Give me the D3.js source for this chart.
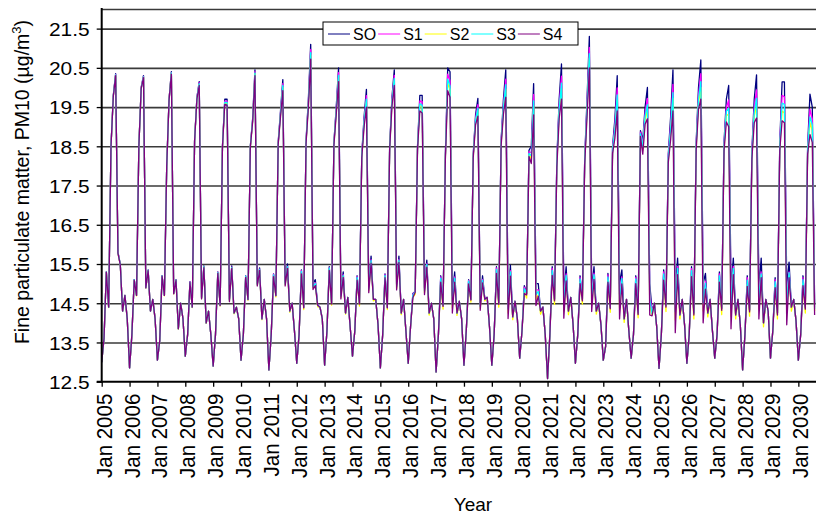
<!DOCTYPE html>
<html><head><meta charset="utf-8">
<script src="https://cdn.jsdelivr.net/npm/d3@7"></script>
<style>html,body{margin:0;padding:0;background:#fff;}svg{display:block;font-family:"Liberation Sans",Arial,Helvetica,sans-serif;}</style>
</head><body><svg id="c" width="816" height="516"></svg>
<script>
const yearLabels = ["Jan 2005","Jan 2006","Jan 2007","Jan 2008","Jan 2009","Jan 2010","Jan 2011","Jan 2012","Jan 2013","Jan 2014","Jan 2015","Jan 2016","Jan 2017","Jan 2018","Jan 2019","Jan 2020","Jan 2021","Jan 2022","Jan 2023","Jan 2024","Jan 2025","Jan 2026","Jan 2027","Jan 2028","Jan 2029","Jan 2030"];
const yTicks = [12.5,13.5,14.5,15.5,16.5,17.5,18.5,19.5,20.5,21.5];
const seriesNames = ["SO","S1","S2","S3","S4"];
const seriesColors = ["#000080","#ff00ff","#ffff00","#00ffff","#800080"];

// monthly values, Jan 2005 .. Aug 2030 (one row per year)
const SO = [
13.0,13.6,15.3,14.4,18.5,19.8,20.35,15.8,15.5,14.3,14.7,14.1,
12.85,13.7,15.1,14.7,18.5,20.0,20.3,14.9,15.35,14.3,14.6,14.1,
13.05,13.55,15.2,14.7,18.0,19.7,20.4,14.75,15.1,13.85,14.5,14.1,
13.15,13.7,15.05,14.4,18.65,19.75,20.15,14.65,15.45,14.0,14.3,13.7,
12.9,13.7,15.3,14.45,18.5,19.7,19.7,14.6,15.45,14.25,14.4,14.1,
13.05,13.7,15.2,14.6,18.5,19.2,20.45,15.0,15.4,14.1,14.6,14.1,
12.8,13.7,15.25,14.7,18.6,19.4,20.2,15.05,15.5,14.3,14.5,13.8,
12.97,13.7,15.35,14.4,18.65,19.7,21.1,15.0,15.1,14.45,14.4,14.1,
12.92,13.8,15.43,14.5,18.6,19.5,20.5,14.75,15.3,14.25,14.65,13.9,
13.15,13.8,15.2,14.5,18.3,19.25,19.95,14.95,15.7,14.6,14.6,13.95,
12.85,13.7,15.25,14.4,18.5,19.75,20.45,15.0,15.7,14.25,14.6,13.8,
12.97,13.9,14.75,14.8,18.5,19.8,19.8,14.9,15.6,14.25,14.5,14.1,
12.75,13.7,15.2,14.45,18.3,20.5,20.4,14.7,15.3,14.25,14.55,14.1,
12.92,13.8,15.1,14.6,18.3,19.3,19.72,14.5,15.2,14.6,14.65,13.9,
12.92,13.7,15.43,14.5,18.65,19.7,20.45,14.6,15.47,14.15,14.55,14.1,
13.1,13.8,14.95,14.75,18.4,18.5,20.1,15.0,15.0,14.3,14.4,13.7,
12.58,13.7,15.43,14.6,18.15,19.7,20.6,14.75,15.43,14.3,14.65,13.95,
12.97,13.7,15.2,14.6,18.2,19.7,21.3,14.85,15.43,14.3,14.5,13.95,
13.05,13.4,15.26,14.4,18.5,19.2,20.3,15.0,15.35,14.1,14.6,13.8,
13.1,13.7,15.2,14.25,18.9,18.65,19.5,20.0,15.0,14.3,14.5,13.9,
12.84,13.7,15.35,14.45,18.3,19.25,20.45,14.8,15.65,14.2,14.6,13.95,
12.97,13.7,15.43,14.25,18.6,20.0,20.7,15.0,15.26,14.25,14.6,13.8,
13.1,13.7,15.3,14.37,18.6,19.7,20.05,14.9,15.65,14.2,14.6,13.95,
12.8,13.7,15.2,14.33,18.4,19.7,20.32,14.9,15.65,14.0,14.6,14.3,
13.1,13.8,15.15,14.25,18.6,20.14,20.14,14.9,15.55,14.4,14.6,14.05,
13.05,13.7,15.2,14.4,18.5,19.83,19.5,14.5
];
const S1 = [
13.0,13.6,15.3,14.4,18.5,19.79,20.33,15.79,15.49,14.3,14.7,14.1,
12.85,13.7,15.1,14.7,18.5,19.99,20.28,14.9,15.34,14.3,14.6,14.1,
13.05,13.55,15.2,14.7,18.0,19.69,20.38,14.75,15.09,13.85,14.5,14.1,
13.15,13.7,15.05,14.4,18.65,19.73,20.12,14.64,15.43,14.0,14.3,13.7,
12.9,13.7,15.29,14.45,18.49,19.65,19.65,14.59,15.42,14.25,14.4,14.1,
13.05,13.7,15.19,14.6,18.49,19.17,20.4,14.99,15.37,14.1,14.6,14.1,
12.8,13.7,15.24,14.7,18.59,19.34,20.1,15.02,15.44,14.3,14.5,13.8,
12.97,13.7,15.33,14.4,18.63,19.62,20.97,14.96,15.02,14.45,14.4,14.1,
12.92,13.8,15.41,14.5,18.58,19.43,20.38,14.72,15.23,14.25,14.65,13.9,
13.15,13.8,15.18,14.5,18.28,19.16,19.79,14.9,15.61,14.6,14.6,13.95,
12.85,13.7,15.23,14.4,18.48,19.67,20.31,14.96,15.62,14.25,14.6,13.8,
12.97,13.9,14.73,14.8,18.48,19.66,19.64,14.86,15.51,14.25,14.5,14.1,
12.75,13.7,15.17,14.45,18.27,20.34,20.17,14.57,15.17,14.25,14.55,14.1,
12.92,13.8,15.08,14.6,18.28,19.21,19.56,14.45,15.11,14.6,14.65,13.9,
12.92,13.7,15.4,14.5,18.62,19.56,20.21,14.46,15.33,14.15,14.55,14.1,
13.1,13.8,14.91,14.75,18.36,18.34,19.82,14.84,14.84,14.3,14.4,13.7,
12.58,13.7,15.39,14.6,18.11,19.52,20.29,14.57,15.25,14.3,14.65,13.95,
12.97,13.7,15.16,14.6,18.16,19.54,21.02,14.69,15.27,14.3,14.5,13.95,
13.05,13.4,15.22,14.4,18.46,19.02,19.99,14.73,15.17,14.1,14.6,13.8,
13.1,13.7,15.16,14.25,18.86,18.55,19.34,19.72,14.76,14.26,14.5,13.9,
12.84,13.7,15.3,14.45,18.25,19.04,20.08,14.49,15.44,14.2,14.6,13.95,
12.97,13.7,15.38,14.25,18.55,19.8,20.35,14.7,15.06,14.25,14.6,13.8,
13.1,13.7,15.25,14.37,18.55,19.49,19.68,14.59,15.44,14.2,14.6,13.95,
12.8,13.7,15.15,14.33,18.35,19.48,19.94,14.65,15.3,14.0,14.6,14.3,
13.1,13.8,15.1,14.25,18.55,19.8,19.76,14.6,15.3,14.4,14.6,14.05,
13.05,13.7,15.15,14.4,18.45,19.45,19.2,14.4
];
const S2 = [
13.0,13.6,15.29,14.39,18.49,19.78,20.31,15.78,15.48,14.3,14.7,14.1,
12.85,13.7,15.09,14.69,18.49,19.98,20.26,14.89,15.33,14.3,14.6,14.1,
13.05,13.55,15.19,14.69,17.99,19.68,20.36,14.74,15.08,13.84,14.5,14.1,
13.15,13.7,15.03,14.39,18.64,19.71,20.08,14.62,15.42,13.99,14.3,13.7,
12.9,13.7,15.27,14.43,18.48,19.6,19.6,14.56,15.4,14.23,14.4,14.1,
13.05,13.7,15.17,14.58,18.48,19.14,20.35,14.96,15.35,14.08,14.6,14.1,
12.8,13.7,15.19,14.66,18.56,19.29,20.0,14.97,15.4,14.27,14.5,13.8,
12.97,13.7,15.27,14.34,18.59,19.55,20.83,14.89,14.97,14.41,14.4,14.1,
12.92,13.8,15.36,14.45,18.55,19.36,20.26,14.65,15.18,14.22,14.65,13.9,
13.15,13.8,15.11,14.43,18.23,19.07,19.64,14.82,15.54,14.56,14.6,13.95,
12.85,13.7,15.17,14.34,18.44,19.59,20.17,14.88,15.56,14.21,14.6,13.8,
12.97,13.9,14.66,14.73,18.43,19.53,19.49,14.77,15.44,14.2,14.5,14.1,
12.75,13.7,15.07,14.35,18.2,20.11,19.95,14.38,15.07,14.19,14.55,14.1,
12.92,13.8,15.01,14.53,18.23,19.12,19.41,14.37,15.04,14.56,14.65,13.9,
12.92,13.7,15.29,14.4,18.55,19.42,19.96,14.25,15.23,14.08,14.55,14.1,
13.1,13.8,14.79,14.63,18.28,18.18,19.54,14.6,14.72,14.22,14.4,13.7,
12.58,13.7,15.25,14.47,18.02,19.34,19.97,14.3,15.12,14.21,14.65,13.95,
12.97,13.7,15.04,14.48,18.08,19.38,20.74,14.45,15.15,14.22,14.5,13.95,
13.05,13.4,15.08,14.27,18.37,18.84,19.67,14.37,15.04,14.01,14.6,13.8,
13.1,13.7,15.04,14.13,18.78,18.4,19.18,19.44,14.44,14.2,14.5,13.9,
12.84,13.7,15.14,14.29,18.14,18.83,19.72,14.07,15.28,14.1,14.6,13.95,
12.97,13.7,15.23,14.1,18.45,19.6,20.0,14.3,14.91,14.15,14.6,13.8,
13.1,13.7,15.09,14.21,18.44,19.28,19.32,14.17,15.28,14.1,14.6,13.95,
12.8,13.7,14.98,14.17,18.24,19.26,19.55,14.35,15.2,13.9,14.6,14.3,
13.1,13.8,14.95,14.1,18.45,19.4,19.35,14.3,15.2,14.3,14.6,14.05,
13.05,13.7,15.0,14.25,18.35,19.1,18.9,14.3
];
const S3 = [
13.0,13.6,15.3,14.4,18.5,19.79,20.32,15.79,15.49,14.3,14.7,14.1,
12.85,13.7,15.1,14.7,18.5,19.98,20.27,14.9,15.34,14.3,14.6,14.1,
13.05,13.55,15.2,14.7,18.0,19.68,20.37,14.75,15.09,13.85,14.5,14.1,
13.15,13.7,15.04,14.4,18.64,19.72,20.1,14.63,15.43,14.0,14.3,13.7,
12.9,13.7,15.28,14.45,18.49,19.62,19.62,14.57,15.41,14.25,14.4,14.1,
13.05,13.7,15.19,14.6,18.49,19.16,20.37,14.97,15.36,14.1,14.6,14.1,
12.8,13.7,15.22,14.7,18.57,19.32,20.05,14.99,15.43,14.3,14.5,13.8,
12.97,13.7,15.31,14.4,18.61,19.59,20.89,14.92,15.0,14.45,14.4,14.1,
12.92,13.8,15.4,14.5,18.57,19.4,20.31,14.68,15.21,14.25,14.65,13.9,
13.15,13.8,15.16,14.5,18.26,19.12,19.7,14.86,15.59,14.6,14.6,13.95,
12.85,13.7,15.21,14.4,18.46,19.63,20.23,14.92,15.6,14.25,14.6,13.8,
12.97,13.9,14.7,14.8,18.46,19.58,19.55,14.81,15.49,14.25,14.5,14.1,
12.75,13.7,15.14,14.45,18.24,20.21,20.04,14.47,15.14,14.25,14.55,14.1,
12.92,13.8,15.06,14.6,18.26,19.17,19.47,14.41,15.09,14.6,14.65,13.9,
12.92,13.7,15.36,14.5,18.58,19.49,20.07,14.36,15.3,14.15,14.55,14.1,
13.1,13.8,14.87,14.75,18.32,18.26,19.66,14.72,14.8,14.3,14.4,13.7,
12.58,13.7,15.34,14.6,18.06,19.43,20.11,14.44,15.21,14.3,14.65,13.95,
12.97,13.7,15.12,14.6,18.12,19.46,20.86,14.57,15.23,14.3,14.5,13.95,
13.05,13.4,15.17,14.4,18.41,18.93,19.81,14.55,15.13,14.1,14.6,13.8,
13.1,13.7,15.12,14.25,18.82,18.48,19.26,19.56,14.6,14.24,14.5,13.9,
12.84,13.7,15.25,14.45,18.2,18.94,19.87,14.28,15.39,14.2,14.6,13.95,
12.97,13.7,15.33,14.25,18.5,19.7,20.15,14.5,15.01,14.25,14.6,13.8,
13.1,13.7,15.2,14.37,18.5,19.39,19.47,14.38,15.39,14.2,14.6,13.95,
12.8,13.7,15.09,14.33,18.29,19.37,19.72,14.5,15.25,14.0,14.6,14.3,
13.1,13.8,15.05,14.25,18.5,19.6,19.57,14.45,15.28,14.4,14.6,14.05,
13.05,13.7,15.1,14.4,18.4,19.25,19.05,14.35
];
const S4 = [
13.0,13.6,15.29,14.4,18.49,19.77,20.3,15.78,15.48,14.3,14.7,14.1,
12.85,13.7,15.09,14.7,18.49,19.97,20.25,14.89,15.33,14.3,14.6,14.1,
13.05,13.55,15.19,14.7,17.99,19.67,20.34,14.74,15.08,13.85,14.5,14.1,
13.15,13.7,15.03,14.4,18.63,19.7,20.05,14.61,15.41,14.0,14.3,13.7,
12.9,13.7,15.26,14.44,18.47,19.57,19.55,14.54,15.39,14.25,14.4,14.1,
13.05,13.7,15.16,14.59,18.47,19.12,20.3,14.94,15.34,14.1,14.6,14.1,
12.8,13.7,15.18,14.69,18.54,19.25,19.92,14.94,15.39,14.3,14.5,13.8,
12.97,13.7,15.25,14.38,18.57,19.49,20.72,14.85,14.95,14.45,14.4,14.1,
12.92,13.8,15.34,14.48,18.53,19.31,20.15,14.61,15.16,14.25,14.65,13.9,
13.15,13.8,15.09,14.48,18.21,19.0,19.5,14.77,15.52,14.6,14.6,13.95,
12.85,13.7,15.15,14.38,18.42,19.53,20.05,14.84,15.54,14.25,14.6,13.8,
12.97,13.9,14.64,14.78,18.41,19.4,19.35,14.72,15.42,14.25,14.5,14.1,
12.75,13.7,15.04,14.42,18.17,19.92,19.75,14.25,15.04,14.25,14.55,14.1,
12.92,13.8,14.99,14.58,18.21,19.05,19.27,14.32,15.02,14.6,14.65,13.9,
12.92,13.7,15.26,14.47,18.51,19.32,19.75,14.11,15.19,14.15,14.55,14.1,
13.1,13.8,14.75,14.71,18.24,18.06,19.3,14.44,14.68,14.3,14.4,13.7,
12.58,13.7,15.21,14.56,17.97,19.21,19.7,14.12,15.07,14.3,14.65,13.95,
12.97,13.7,15.0,14.56,18.04,19.26,20.5,14.29,15.11,14.3,14.5,13.95,
13.05,13.4,15.04,14.36,18.32,18.71,19.4,14.1,14.99,14.1,14.6,13.8,
13.1,13.7,15.0,14.21,18.75,18.3,19.06,19.2,14.2,14.18,14.5,13.9,
12.84,13.7,15.09,14.4,18.09,18.67,19.4,13.75,15.23,14.2,14.6,13.95,
12.97,13.7,15.18,14.2,18.4,19.45,19.7,14.0,14.86,14.25,14.6,13.8,
13.1,13.7,15.04,14.32,18.39,19.12,19.0,13.85,15.23,14.2,14.6,13.95,
12.8,13.7,14.93,14.28,18.18,19.1,19.22,14.1,15.15,14.0,14.6,14.3,
13.1,13.8,14.9,14.2,18.4,19.15,19.1,13.95,15.15,14.4,14.6,14.05,
13.05,13.7,14.95,14.35,18.3,18.8,18.6,14.2
];

const seriesData = [SO, S1, S2, S3, S4];

const svg = d3.select("#c");
const L = 101.7, R = 816, T = 9, B = 381.7;
const x = d3.scaleLinear().domain([0, 307.6]).range([L, R]);
const y = d3.scaleLinear().domain([12.5, 22]).range([B, T]);

// gridlines
const grid = svg.append("g").attr("transform", `translate(${L},0)`)
  .call(d3.axisLeft(y).tickValues(yTicks.slice(1).concat([22])).tickSize(-(R - L)).tickFormat(""));
grid.select(".domain").remove();
grid.selectAll("line").attr("stroke", "#3a3a3a").attr("stroke-width", 1.6);

// series
svg.append("defs").append("clipPath").attr("id", "clip")
  .append("rect").attr("x", L).attr("y", T - 5).attr("width", R - L).attr("height", B - T + 5);
const line = d3.line().x((d, i) => x(i)).y(d => y(d));
svg.append("g").attr("clip-path", "url(#clip)")
  .selectAll("path").data(seriesData).join("path")
  .attr("d", d => line(d))
  .attr("fill", "none")
  .attr("stroke", (d, i) => seriesColors[i])
  .attr("stroke-width", 1.3)
  .attr("stroke-linejoin", "round");

// y axis
const ya = svg.append("g").attr("transform", `translate(${L},0)`)
  .call(d3.axisLeft(y).tickValues(yTicks).tickSize(5).tickFormat(d3.format(".1f")));
ya.select(".domain").remove();
ya.selectAll("line").attr("stroke", "#000").attr("stroke-width", 1.3);
ya.selectAll("text").attr("x", -11).attr("dy", "0.36em")
  .attr("font-size", 19).attr("fill", "#000")
  .attr("font-family", "'Liberation Sans',Arial,sans-serif")
  .attr("transform", "scale(1.1,1)");

// x axis
const xa = svg.append("g").attr("transform", `translate(0,${B})`)
  .call(d3.axisBottom(x).tickValues(d3.range(0, 301, 12)).tickSize(5).tickFormat((d, i) => yearLabels[i]));
xa.select(".domain").remove();
xa.selectAll("line").attr("stroke", "#000").attr("stroke-width", 1.3);
xa.selectAll("text").attr("y", 0).attr("x", -12).attr("dy", "0.42em")
  .attr("text-anchor", "end").attr("font-size", 20.5).attr("fill", "#000")
  .attr("font-family", "'Liberation Sans',Arial,sans-serif")
  .attr("transform", "scale(1.1,1) rotate(-90)");

// axis lines
svg.append("line").attr("x1", L).attr("x2", L).attr("y1", T - 1).attr("y2", B + 1)
  .attr("stroke", "#000").attr("stroke-width", 2);
svg.append("line").attr("x1", L - 5).attr("x2", R).attr("y1", B).attr("y2", B)
  .attr("stroke", "#000").attr("stroke-width", 2);

// axis titles
const yt = svg.append("text").attr("transform", "translate(29,182) rotate(-90)")
  .attr("text-anchor", "middle").attr("font-size", 19.5).attr("fill", "#000");
yt.append("tspan").text("Fine particulate matter, PM10 (µg/m");
yt.append("tspan").attr("dy", -8).attr("font-size", 13).text("3");
yt.append("tspan").attr("dy", 8).text(")");

svg.append("text").attr("x", 473).attr("y", 511).attr("text-anchor", "middle")
  .attr("font-size", 19).attr("fill", "#000").text("Year");

// legend
const lg = svg.append("g");
lg.append("rect").attr("x", 323).attr("y", 22).attr("width", 255).attr("height", 23)
  .attr("fill", "#fff").attr("stroke", "#000").attr("stroke-width", 1);
let cursor = 328;
seriesNames.forEach((n, i) => {
  lg.append("line").attr("x1", cursor).attr("x2", cursor + 22).attr("y1", 34).attr("y2", 34)
    .attr("stroke", seriesColors[i]).attr("stroke-width", 1);
  const t = lg.append("text").attr("x", cursor + 25).attr("y", 40).attr("font-size", 16)
    .attr("fill", "#000").text(n);
  cursor = cursor + 25 + t.node().getComputedTextLength() + 2;
});
</script>
</body></html>
